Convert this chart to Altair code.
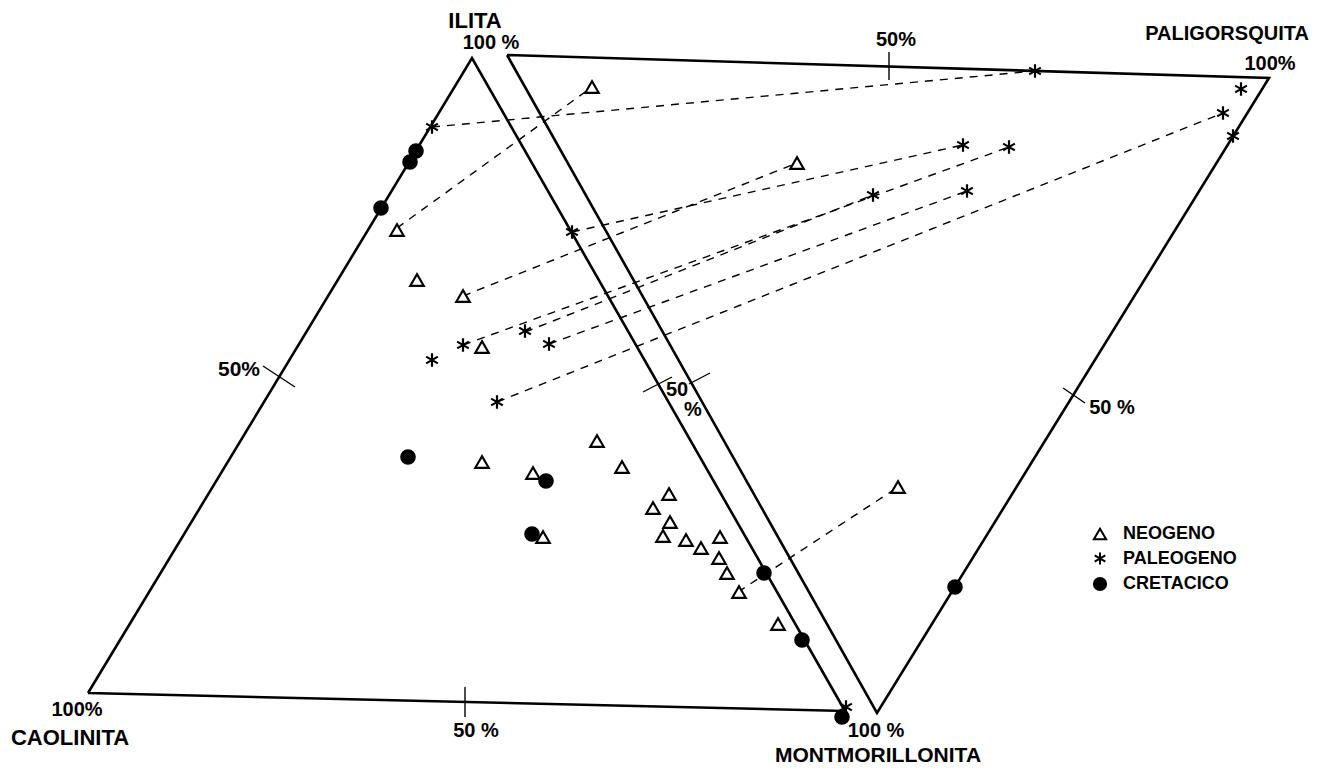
import altair as alt
import pandas as pd

# ---------------- data (diagram plane coordinates) -------------
# diagram frames: left ternary (Caolinita - Ilita - Montmorillonita) and right ternary
left_frame_x = [88, 472, 845, 88]
left_frame_y = [693, 58, 711, 693]
right_frame_x = [507, 1269, 877, 507]
right_frame_y = [55, 78, 713, 55]

# 50 % tick marks on the edges
tick_x1 = [263, 465, 643, 689, 889, 1063]
tick_y1 = [366, 687, 392, 384, 52, 388]
tick_x2 = [295, 465, 672, 710, 889, 1085]
tick_y2 = [387, 717, 377, 373, 80, 403]

# series
neo_x = [592, 397, 417, 463, 482, 797, 482, 533, 597, 622, 543, 653, 669, 670, 663,
         686, 701, 720, 719, 727, 739, 778, 898]
neo_y = [87, 230, 280, 296, 347, 163, 462, 473, 441, 467, 537, 508, 494, 522, 536,
         540, 548, 537, 558, 573, 592, 624, 487]
pal_x = [432, 572, 463, 432, 525, 549, 497, 1035, 963, 1009, 873, 967, 1241, 1223, 1233, 846]
pal_y = [127, 232, 345, 360, 331, 344, 402, 71, 145, 147, 195, 191, 89, 113, 136, 707]
cre_x = [416, 410, 381, 408, 546, 532, 764, 802, 842, 955]
cre_y = [151, 162, 208, 457, 481, 534, 573, 640, 717, 587]
series_names = ["NEOGENO", "PALEOGENO", "CRETACICO"]

# dashed tie lines joining the same sample in both diagrams
tie_x1 = [432, 397, 463, 572, 463, 525, 549, 497, 738]
tie_y1 = [127, 228, 296, 232, 345, 332, 344, 402, 592]
tie_x2 = [1035, 592, 797, 963, 1009, 873, 967, 1223, 898]
tie_y2 = [71, 87, 163, 145, 147, 195, 191, 113, 487]

# text labels
label_text = ["ILITA", "100 %", "PALIGORSQUITA", "100%", "100%", "CAOLINITA", "50 %",
              "100 %", "MONTMORILLONITA", "50%", "50%", "50 %", "50", "%"]
label_x = [475, 491, 1227, 1270, 77, 70, 476, 876, 878, 239, 896, 1112, 677, 693]
label_y = [21, 43, 34, 64, 710, 738, 731, 731, 756, 370, 40, 408, 390, 410]
label_size = [22, 20, 20, 20, 20, 22, 20, 20, 21, 21, 20, 20, 20, 20]

# ---------------- tables ----------------
frames = pd.DataFrame({
    "x": left_frame_x + right_frame_x,
    "y": left_frame_y + right_frame_y,
    "poly": ["L"] * len(left_frame_x) + ["R"] * len(right_frame_x),
    "o": list(range(len(left_frame_x))) + list(range(len(right_frame_x))),
})
ticks = pd.DataFrame({"x": tick_x1, "y": tick_y1, "x2": tick_x2, "y2": tick_y2})
ties = pd.DataFrame({"x": tie_x1, "y": tie_y1, "x2": tie_x2, "y2": tie_y2})
pts = pd.DataFrame({
    "x": neo_x + pal_x + cre_x,
    "y": neo_y + pal_y + cre_y,
    "serie": [series_names[0]] * len(neo_x) + [series_names[1]] * len(pal_x)
             + [series_names[2]] * len(cre_x),
})
labels = pd.DataFrame({"t": label_text, "x": label_x, "y": label_y, "s": label_size})

W, H = 1306, 758
xs = alt.Scale(domain=[8, 8 + W], nice=False, zero=False)
ys = alt.Scale(domain=[8, 8 + H], nice=False, zero=False, reverse=True)
X = lambda f="x": alt.X(f"{f}:Q", scale=xs, axis=None)
Y = lambda f="y": alt.Y(f"{f}:Q", scale=ys, axis=None)

frame_layer = alt.Chart(frames).mark_line(color="black", strokeWidth=2.6, strokeJoin="miter").encode(
    x=X(), y=Y(), detail="poly:N", order="o:Q")

tick_layer = alt.Chart(ticks).mark_rule(color="black", strokeWidth=1.4).encode(
    x=X(), y=Y(), x2="x2:Q", y2="y2:Q")

tie_layer = alt.Chart(ties).mark_rule(color="black", strokeWidth=1.4, strokeDash=[8, 7]).encode(
    x=X(), y=Y(), x2="x2:Q", y2="y2:Q")

star_path = "M0,-1L0,1M-0.87,-0.5L0.87,0.5M-0.87,0.5L0.87,-0.5"
legend = alt.Legend(title=None, orient="none", legendX=1083, legendY=517,
                    labelFont="Liberation Sans", labelFontSize=18,
                    labelFontWeight="bold", labelColor="black",
                    labelOffset=14, rowPadding=3.5, symbolSize=150,
                    symbolStrokeWidth=2, symbolOpacity=1)
pt_layer = alt.Chart(pts).mark_point(filled=True, strokeWidth=2.2, opacity=1, size=180).encode(
    x=X(), y=Y(),
    shape=alt.Shape("serie:N",
                    scale=alt.Scale(domain=series_names, range=["triangle-up", star_path, "circle"]),
                    legend=legend),
    fill=alt.Fill("serie:N", scale=alt.Scale(domain=series_names, range=["white", "black", "black"]),
                  legend=legend),
    stroke=alt.Stroke("serie:N", scale=alt.Scale(domain=series_names, range=["black", "black", "black"]),
                      legend=legend),
)

text_layers = []
for s in sorted(set(label_size)):
    text_layers.append(
        alt.Chart(labels).transform_filter(alt.datum.s == s).mark_text(
            font="Liberation Sans", fontWeight="bold", color="black", fontSize=s,
            align="center", baseline="middle").encode(x=X(), y=Y(), text="t:N")
    )

chart = alt.layer(frame_layer, tick_layer, tie_layer, pt_layer, *text_layers).properties(
    width=W, height=H, padding=0, autosize="none", background="white"
).configure_view(strokeWidth=0)

chart.save("out.html", embed_options={"renderer": "svg", "actions": False})
